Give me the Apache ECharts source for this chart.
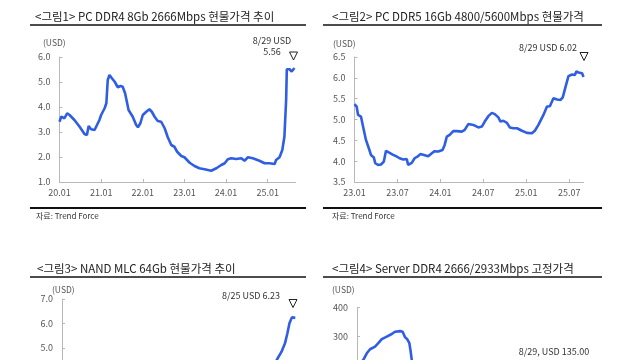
<!DOCTYPE html>
<html><head><meta charset="utf-8">
<script src="https://cdn.jsdelivr.net/npm/echarts@6/dist/echarts.min.js"></script>
<style>html,body{margin:0;padding:0;background:#fff}#c{width:640px;height:360px}</style>
</head><body><div id="c"></div>
<script>
// Chart 1: PC DDR4 8Gb (months since 2020.01)
const ddr4Months = [0,0.5,0.95,1.44,2.2,2.9,4.3,5.8,7.2,7.9,8.4,9.1,10.1,10.6,11.5,12.0,13.0,13.5,13.9,14.4,15.1,15.9,16.8,17.6,18.2,18.9,19.9,21.1,22.1,22.6,23.3,24.0,25.0,25.9,26.6,27.4,28.3,29.3,30.3,31.2,32.2,33.1,33.9,35.1,36.0,37.5,38.9,40.3,41.8,43.7,45.2,46.6,47.6,48.5,49.5,50.9,52.4,53.3,54.3,55.7,57.6,59.1,60.5,62.0,62.4,63.4,64.2,64.8,65.3,65.5,66.3,66.9,67.7];
const ddr4Prices = [3.41,3.61,3.68,3.55,3.75,3.68,3.48,3.21,2.92,2.88,3.24,3.11,3.08,3.15,3.48,3.68,3.95,4.15,5.08,5.28,5.15,5.01,4.79,4.84,4.81,4.55,3.88,3.61,3.28,3.19,3.35,3.68,3.81,3.91,3.81,3.61,3.44,3.41,3.15,2.79,2.48,2.41,2.21,2.04,1.99,1.77,1.64,1.55,1.51,1.45,1.55,1.68,1.75,1.91,1.95,1.92,1.95,1.85,1.99,1.95,1.85,1.75,1.75,1.72,1.88,1.99,2.28,2.81,4.28,5.51,5.51,5.42,5.56];
const ddr4Ticks = ['20.01','21.01','22.01','23.01','24.01','25.01'];

// Chart 2: PC DDR5 16Gb (months since 2023.01)
const ddr5Months = [0,0.3,0.5,0.9,1.3,1.6,2.0,2.3,2.7,2.9,3.3,3.7,4.1,4.4,4.9,5.4,5.8,6.3,6.8,7.3,7.5,8.0,8.4,8.9,9.2,9.7,10.3,10.8,11.2,11.7,12.3,12.6,12.9,13.3,13.8,14.3,15.0,15.4,15.9,16.1,16.6,17.3,17.8,18.2,18.7,19.2,19.6,20.1,20.4,20.8,21.3,21.7,22.2,22.7,23.4,24.1,24.8,25.2,25.7,26.4,26.9,27.3,27.8,28.3,28.8,29.1,29.5,29.9,30.4,30.8,31.0,31.3,31.5,31.8,32.0];
const ddr5Prices = [5.37,5.31,5.11,5.07,4.75,4.51,4.31,4.15,4.09,3.95,3.91,3.92,3.99,4.25,4.20,4.15,4.12,4.07,4.04,4.05,3.91,3.96,4.07,4.12,4.17,4.15,4.12,4.19,4.24,4.23,4.27,4.39,4.59,4.63,4.72,4.72,4.71,4.75,4.89,4.92,4.87,4.81,4.83,4.95,5.08,5.16,5.13,5.05,4.95,4.97,4.92,4.81,4.79,4.79,4.73,4.68,4.67,4.73,4.87,5.11,5.31,5.32,5.51,5.48,5.47,5.53,5.79,6.04,6.08,6.07,6.15,6.13,6.16,6.11,6.02];
const ddr5Ticks = ['23.01','23.07','24.01','24.07','25.01','25.07'];

// Chart 3: NAND MLC 64Gb (visible tail only)
const nandMonths = [61.0,62.4,63.8,64.8,65.5,66.1,66.8,67.3,67.8];
const nandPrices = [4.10,4.51,4.85,5.19,5.60,6.01,6.25,6.27,6.23];

// Chart 4: Server DDR4 fixed price (visible part)
const srvMonths = [0,1.4,2.9,4.5,6.0,8.3,9.8,11.4,13.7,16.0,17.5,19.8,21.0,22.1,23.1,24.1,24.7,25.2,25.8];
const srvPrices = [190,207,218,241,255,264,276,290,299,308,316,318,316,297,290,276,247,218,180];

const FONT = "'Noto Sans CJK KR','Noto Sans',sans-serif";
const BLUE = '#2f5ee3';
const AX = '#b8b8b8';
const LBL = '#555';

function xAxisDef(gi, max, step, ticks, show) {
  const vals = ticks.map((t, i) => i * step);
  return {
    type: 'value', gridIndex: gi, min: 0, max: max,
    axisLine: {show: true, lineStyle: {color: AX, width: 1}},
    axisTick: {show: show, inside: true, length: 3, lineStyle: {color: AX}, customValues: vals},
    axisLabel: {show: show, customValues: vals, color: LBL, fontSize: 9, fontFamily: FONT, margin: 6,
      formatter: v => ticks[Math.round(v / step)] || ''},
    splitLine: {show: false}
  };
}
function yAxisDef(gi, min, max, interval, dec) {
  return {
    type: 'value', gridIndex: gi, min: min, max: max, interval: interval,
    axisLine: {show: true, lineStyle: {color: AX, width: 1}},
    axisTick: {show: true, inside: true, length: 3, lineStyle: {color: AX}},
    axisLabel: {color: LBL, fontSize: 9, fontFamily: FONT, margin: 9, formatter: v => v.toFixed(dec)},
    splitLine: {show: false}
  };
}
function lineSeries(idx, xs, ys) {
  return {
    type: 'line', xAxisIndex: idx, yAxisIndex: idx,
    data: xs.map((x, i) => [x, ys[i]]),
    showSymbol: false, symbol: 'none',
    lineStyle: {color: BLUE, width: 2.6}, itemStyle: {color: BLUE}
  };
}
function txt(x, y, s, size, align, color) {
  return {type: 'text', x: x, y: y, style: {text: s, fontSize: size, fontFamily: FONT, fill: color || '#333',
    align: align || 'left', verticalAlign: 'middle'}};
}
function hline(x1, x2, y, w) {
  return {type: 'line', shape: {x1: x1, y1: y, x2: x2, y2: y}, style: {stroke: '#111', lineWidth: w}};
}
function tri(cx, cy) {
  return {type: 'polygon', shape: {points: [[cx - 4, cy - 4], [cx + 4, cy - 4], [cx, cy + 4]]},
    style: {fill: '#fff', stroke: '#222', lineWidth: 1}};
}

const chart = echarts.init(document.getElementById('c'), null, {renderer: 'canvas'});
chart.setOption({
  backgroundColor: '#fff',
  animation: false,
  grid: [
    {left: 59.5, top: 57, width: 236, height: 125, outerBoundsMode: 'none'},
    {left: 354.5, top: 57, width: 229, height: 125, outerBoundsMode: 'none'},
    {left: 62, top: 299, width: 234, height: 147, outerBoundsMode: 'none'},
    {left: 357, top: 307.5, width: 226, height: 115.2, outerBoundsMode: 'none'}
  ],
  xAxis: [
    xAxisDef(0, 68, 12, ddr4Ticks, true),
    xAxisDef(1, 32, 6, ddr5Ticks, true),
    xAxisDef(2, 68, 12, ddr4Ticks, false),
    xAxisDef(3, 104, 12, [], false)
  ],
  yAxis: [
    yAxisDef(0, 1, 6, 1, 1),
    yAxisDef(1, 3.5, 6.5, 0.5, 1),
    yAxisDef(2, 1, 7, 1, 1),
    yAxisDef(3, 0, 400, 100, 0)
  ],
  series: [
    lineSeries(0, ddr4Months, ddr4Prices),
    lineSeries(1, ddr5Months, ddr5Prices),
    lineSeries(2, nandMonths, nandPrices),
    lineSeries(3, srvMonths, srvPrices)
  ],
  graphic: [
    txt(35, 16.5, '<그림1> PC DDR4 8Gb 2666Mbps 현물가격 추이', 11.5, 'left', '#222'),
    hline(30, 306, 25, 1.5),
    txt(332, 16.5, '<그림2> PC DDR5 16Gb 4800/5600Mbps 현물가격', 11.5, 'left', '#222'),
    hline(323, 602, 25, 1.5),
    txt(37, 268.5, '<그림3> NAND MLC 64Gb 현물가격 추이', 11.5, 'left', '#222'),
    hline(30, 306, 277, 1.5),
    txt(332, 268.5, '<그림4> Server DDR4 2666/2933Mbps 고정가격', 11.5, 'left', '#222'),
    hline(323, 602, 277, 1.5),

    txt(43, 43, '(USD)', 8.5, 'left', LBL),
    txt(333, 44, '(USD)', 8.5, 'left', LBL),
    txt(52, 290, '(USD)', 8.5, 'left', LBL),
    txt(332, 290, '(USD)', 8.5, 'left', LBL),

    hline(30, 306, 208, 2),
    hline(323, 602, 208, 2),
    txt(36, 216, '자료: Trend Force', 8, 'left', '#333'),
    txt(332, 216, '자료: Trend Force', 8, 'left', '#333'),

    txt(272, 41, '8/29 USD', 9, 'center', '#333'),
    txt(272, 52, '5.56', 9, 'center', '#333'),
    tri(293.5, 56),
    txt(548, 48, '8/29 USD 6.02', 9, 'center', '#333'),
    tri(584, 56.5),
    txt(251, 296, '8/25 USD 6.23', 9, 'center', '#333'),
    tri(293, 303.5),
    txt(554, 352, '8/29, USD 135.00', 9, 'center', '#333')
  ]
});
</script>
</body></html>
